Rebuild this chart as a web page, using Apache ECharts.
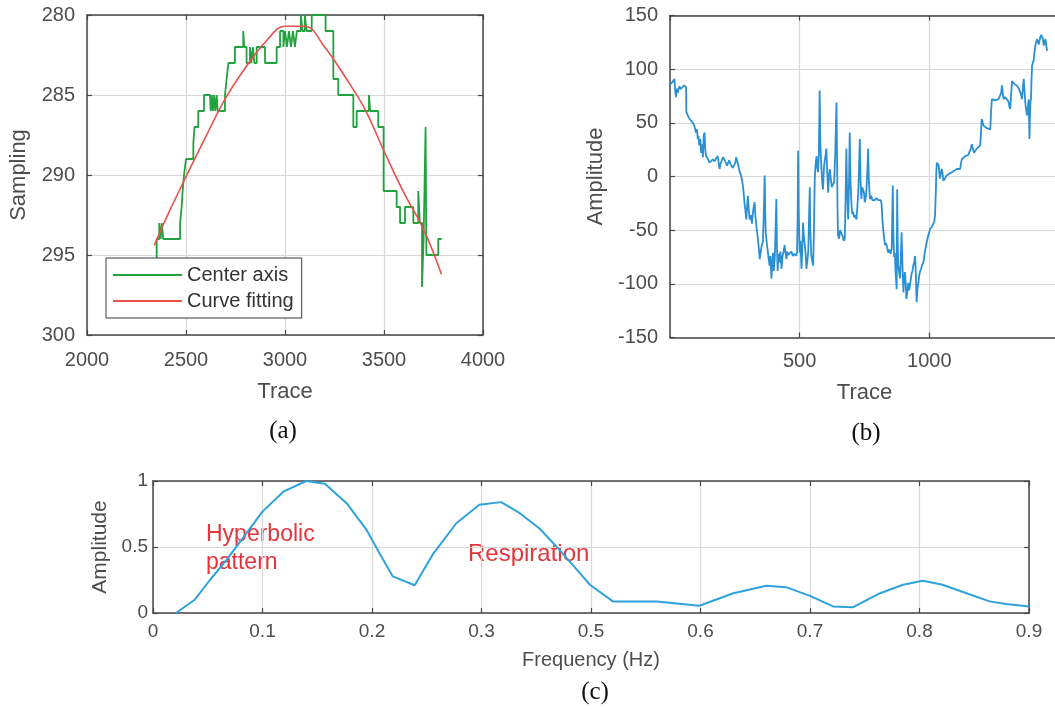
<!DOCTYPE html>
<html>
<head>
<meta charset="utf-8">
<script src="https://cdn.jsdelivr.net/npm/echarts@6/dist/echarts.min.js"></script>
<style>
  html, body { margin: 0; padding: 0; background: #ffffff; }
  #chart { width: 1055px; height: 709px; }
</style>
</head>
<body>
<div id="chart"></div>
<script>
// ---- (a) hyperbola apex tracking: picked centre axis (step trace) and its fitted curve
const centerTrace = [2352,2352,2365,2365,2372,2372,2378,2378,2385,2385,2470,2470,2478,2478,2483,2483,2490,2490,2500,2500,2537,2537,2543,2543,2562,2562,2591,2591,2621,2625,2625,2630,2630,2636,2636,2642,2642,2648,2648,2655,2655,2660,2660,2697,2697,2705,2705,2714,2714,2747,2747,2789,2789,2794,2794,2806,2806,2823,2823,2830,2830,2838,2838,2845,2845,2857,2857,2899,2899,2958,2958,2975,2975,2992,2992,3000,3000,3010,3010,3020,3020,3030,3030,3040,3040,3050,3050,3060,3060,3080,3080,3088,3088,3100,3100,3109,3109,3135,3135,3205,3205,3244,3244,3269,3269,3345,3345,3362,3362,3424,3424,3430,3430,3471,3471,3498,3498,3564,3564,3581,3581,3606,3606,3648,3648,3673,3673,3681,3681,3692,3692,3700,3700,3710,3710,3714,3714,3774,3774,3791];
const centerSample = [296,294,294,293,293,294,294,293,293,294,294,293,293,292,292,291,291,290,290,289,289,288,288,287,287,286,286,285,285,285,286,286,285,285,286,286,285,285,286,286,285,285,286,286,285,285,284,284,283,283,282,282,281,281,282,282,283,283,282,282,283,283,282,282,283,283,282,282,283,283,282,282,281,281,282,282,281,281,282,282,281,281,282,282,281,281,282,282,281,281,280,280,281,281,280,280,281,281,280,280,281,281,284,284,285,285,287,287,286,286,285,285,286,286,287,287,291,291,292,292,293,293,292,292,293,293,291,291,293,293,297,297,294,294,287,287,295,295,294,294];
const fitTrace  = [2340, 2400, 2500, 2600, 2700, 2800, 2900, 3000, 3100, 3200, 3300, 3400, 3500, 3600, 3700, 3790];
const fitSample = [294.4, 292.7, 290.1, 287.6, 285.2, 283.3, 281.7, 280.7, 280.7, 282.0, 283.8, 285.8, 288.5, 291.1, 293.4, 296.2];

// ---- (b) amplitude along the trace
const ampTrace = [0,10,17,20,23,27,30,36,42,48,55,62,63,72,81,88,94,100,104,107,110,113,117,120,124,127,130,133,136,139,145,152,158,165,172,178,184,188,191,195,200,205,210,215,220,223,228,235,242,249,252,255,258,262,268,274,278,281,284,287,290,294,297,300,303,307,312,316,320,323,326,329,333,336,339,343,346,350,354,358,361,363,365,367,369,371,374,378,381,384,387,391,394,397,400,404,407,410,412,415,419,423,426,430,434,438,442,446,449,452,456,462,468,474,480,487,490,492,494,496,500,503,507,510,513,516,520,523,526,530,533,536,539,541,545,548,552,555,558,561,565,568,571,574,577,580,584,587,590,594,597,600,603,606,610,613,616,620,624,629,633,637,640,642,644,646,648,652,656,661,665,670,674,677,680,683,687,690,693,696,700,703,706,710,715,719,722,726,729,732,735,738,741,745,748,751,755,758,761,764,767,771,776,780,784,790,796,803,809,813,816,819,822,826,829,833,837,842,846,851,855,857,859,861,864,867,870,874,875,876,878,880,884,887,890,893,896,900,903,906,909,912,916,919,922,925,929,932,935,938,942,945,948,950,951,954,958,961,964,968,973,977,983,990,996,1003,1009,1016,1019,1022,1025,1027,1029,1032,1035,1038,1041,1044,1048,1051,1054,1060,1067,1074,1080,1087,1094,1100,1106,1112,1119,1122,1125,1131,1138,1144,1150,1157,1160,1164,1168,1172,1177,1183,1190,1196,1199,1202,1206,1210,1215,1222,1228,1235,1238,1241,1247,1254,1260,1267,1273,1277,1280,1283,1286,1292,1299,1305,1309,1312,1315,1319,1325,1332,1340,1345,1351,1354,1357,1360,1364,1367,1370,1373,1377,1380,1383,1385,1386,1388,1390,1392,1394,1396,1399,1402,1405,1409,1412,1415,1418,1422,1425,1428,1432,1435,1438,1441,1444,1448,1451,1454];
const ampValue = [86,88,91,80,74,82,78,84,81.5,83,85,83,60,55,52,50,47,41,44,35,38,29,35,22,30,18,38,41,25,19,17,13,14,16,14,17,19,12,7,12,15,18,19,13,10,12,15,11,8,7,13,18,15,12,5,1,-4,-8.5,-15,-24,-30,-40,-30,-18,-28,-40,-36,-44,-33,-28,-24,-36,-46,-52,-58,-68,-77,-70,-64,-61,-40,-20,1,-30,-52,-52,-64,-71,-78,-83,-74,-95,-82,-71,-88,-76,-50,-21,-60,-88,-72,-80,-70,-86,-74,-70,-64,-72,-77,-70,-73,-74,-70,-74,-72,-74,-70,-40,24,-30,-71,-60,-86,-70,-43,-55,-64,-72,-86,-78,-70,-40,-10,-50,-74,-78,-83,-50,-4,10,19,8,4,20,80,30,7,-5,-12,10,15,20,26,5,-15,0,7,-2,-10,-8.5,-5,20,50,69,20,-30,-55,-58,-50,-53,-55,-60,-58,-20,26,-15,-40,-10,41,-5,-27,-35,-33,-38,-36,-40,-30,-15,10,35,-5,-21,-10,-8.5,-15,-24,-20,-10,5,26,-5,-21,-18,-22,-21,-22,-20,-22,-21,-22,-26,-40,-49,-58,-64,-62,-66,-71,-68,-72,-67,-40,-8.5,-50,-75,-71,-90,-105,-60,-12,-60,-83,-90,-95,-75,-52,-80,-108,-95,-89,-100,-114,-105,-99,-106,-102,-95,-90,-88,-83,-80,-74,-90,-110,-117,-105,-99,-92,-89,-86,-82,-80,-70,-61,-55,-49,-47,-46,-42,-36,-15,5,13,10,12,5,-2,3,7,3,-4,-2,1,2,3,4,5,6,7,8,7,12,16,17,19,18,20,21,26,30,26,22,24,26,27,29,40,53.5,50,47,46,45,44,44,60,72,71,71,70,72,72,78,85,78,72,74,75,70,65,63,75,89,87,86,84,82,81,76,72,80,91,80,69,62,57,65,72,50,35,55,70,72,90,103,106,108,115,122,125,128,126,123,127,130,132,133,128,122,125,128,122,117];

// ---- (c) amplitude spectrum
const freqTickLabels = ['0', '0.1', '0.2', '0.3', '0.5', '0.6', '0.7', '0.8', '0.9'];
const freqPos = [0.021,0.038,0.052,0.067,0.082,0.100,0.119,0.140,0.157,0.177,0.195,0.205,0.219,0.239,0.256,0.277,0.298,0.318,0.335,0.353,0.371,0.390,0.399,0.420,0.460,0.499,0.530,0.560,0.578,0.600,0.621,0.639,0.664,0.685,0.703,0.721,0.743,0.764,0.779,0.800];
const freqAmp = [0,0.10,0.25,0.40,0.567,0.768,0.919,1.0,0.98,0.83,0.63,0.48,0.277,0.21,0.45,0.68,0.82,0.84,0.756,0.64,0.48,0.30,0.214,0.088,0.088,0.055,0.15,0.206,0.196,0.13,0.05,0.043,0.15,0.214,0.244,0.214,0.15,0.088,0.068,0.05];

const zip = (xs, ys) => xs.map((x, i) => [x, ys[i]]);
const plain = v => String(v);

const TEXT = '#4d4d4d';
const FRAME = '#474747';
const GRID_LINE = '#d9d9d9';
const SANS = 'Liberation Sans, Arial, sans-serif';

// Bottom/left axis with labels, gridlines and inward ticks
function mainAxis(gridIndex, position, range, extra) {
  return Object.assign({
    type: 'value', gridIndex, position,
    min: range[0], max: range[1], interval: range[2],
    axisLine: { show: true, onZero: false, lineStyle: { color: FRAME, width: 1.5 } },
    axisTick: { show: true, inside: true, length: 5, lineStyle: { color: FRAME, width: 1.2 } },
    axisLabel: { show: true, color: TEXT, fontSize: 20, fontFamily: SANS, margin: 12, formatter: plain },
    splitLine: { show: true, lineStyle: { color: GRID_LINE, width: 1.2 } },
    nameLocation: 'middle',
    nameTextStyle: { color: TEXT, fontSize: 22, fontFamily: SANS }
  }, extra || {});
}
// Top/right box edge with inward ticks only
function boxAxis(gridIndex, position, range, extra) {
  return Object.assign({
    type: 'value', gridIndex, position,
    min: range[0], max: range[1], interval: range[2],
    axisLine: { show: true, onZero: false, lineStyle: { color: FRAME, width: 1.5 } },
    axisTick: { show: true, inside: true, length: 5, lineStyle: { color: FRAME, width: 1.2 } },
    axisLabel: { show: false },
    splitLine: { show: false }
  }, extra || {});
}

const chart = echarts.init(document.getElementById('chart'), null, { renderer: 'canvas' });

const option = {
  animation: false,
  backgroundColor: '#ffffff',
  grid: [
    { left: 87, top: 15, width: 396, height: 320, containLabel: false, outerBoundsMode: 'none' },
    { left: 670, top: 15.5, width: 389, height: 322, containLabel: false, outerBoundsMode: 'none' },
    { left: 153, top: 481, width: 876, height: 132, containLabel: false, outerBoundsMode: 'none' }
  ],
  xAxis: [
    mainAxis(0, 'bottom', [2000, 4000, 500], {
      name: 'Trace', nameGap: 46,
      axisLabel: { color: TEXT, fontSize: 20, fontFamily: SANS, margin: 15, formatter: plain }
    }),
    boxAxis(0, 'top', [2000, 4000, 500]),
    mainAxis(1, 'bottom', [0, 1500, 500], {
      name: 'Trace', nameGap: 44,
      axisLabel: { color: TEXT, fontSize: 20, fontFamily: SANS, margin: 14, formatter: plain, showMinLabel: false, showMaxLabel: false }
    }),
    boxAxis(1, 'top', [0, 1500, 500]),
    mainAxis(2, 'bottom', [0, 0.8, 0.1], {
      name: 'Frequency (Hz)', nameGap: 37,
      nameTextStyle: { color: TEXT, fontSize: 20, fontFamily: SANS },
      axisLabel: {
        color: TEXT, fontSize: 19, fontFamily: SANS, margin: 9,
        formatter: v => freqTickLabels[Math.round(v * 10)]
      }
    }),
    boxAxis(2, 'top', [0, 0.8, 0.1])
  ],
  yAxis: [
    mainAxis(0, 'left', [280, 300, 5], { inverse: true, name: 'Sampling', nameGap: 57 }),
    boxAxis(0, 'right', [280, 300, 5], { inverse: true }),
    mainAxis(1, 'left', [-150, 150, 50], { name: 'Amplitude', nameGap: 63 }),
    mainAxis(2, 'left', [0, 1, 0.5], {
      name: 'Amplitude', nameGap: 34,
      nameTextStyle: { color: TEXT, fontSize: 21, fontFamily: SANS },
      axisLabel: { color: TEXT, fontSize: 19, fontFamily: SANS, margin: 5, formatter: plain }
    }),
    boxAxis(2, 'right', [0, 1, 0.5])
  ],
  legend: {
    data: ['Center axis', 'Curve fitting'],
    orient: 'vertical',
    left: 106, top: 258,
    icon: 'rect',
    itemWidth: 69, itemHeight: 2, itemGap: 6,
    padding: [7, 8, 7, 7],
    backgroundColor: '#ffffff',
    borderColor: '#3a3a3a', borderWidth: 1, borderRadius: 0,
    textStyle: { color: '#333333', fontSize: 20, fontFamily: SANS, lineHeight: 20 },
    z: 10
  },
  series: [
    {
      name: 'Center axis', type: 'line', xAxisIndex: 0, yAxisIndex: 0,
      data: zip(centerTrace, centerSample),
      symbol: 'none', lineStyle: { color: '#22a23e', width: 1.8 }, itemStyle: { color: '#22a23e' }, z: 2
    },
    {
      name: 'Curve fitting', type: 'line', xAxisIndex: 0, yAxisIndex: 0,
      data: zip(fitTrace, fitSample), smooth: 0.4,
      symbol: 'none', lineStyle: { color: '#e9524c', width: 1.6 }, itemStyle: { color: '#e9524c' }, z: 3
    },
    {
      name: 'Amplitude trace', type: 'line', xAxisIndex: 2, yAxisIndex: 2,
      data: zip(ampTrace, ampValue),
      symbol: 'none', lineStyle: { color: '#2b8fd3', width: 1.8 }
    },
    {
      name: 'Spectrum', type: 'line', xAxisIndex: 4, yAxisIndex: 3,
      data: zip(freqPos, freqAmp),
      symbol: 'none', lineStyle: { color: '#2fa2dc', width: 2 }
    }
  ],
  graphic: [
    { type: 'text', x: 206, y: 535, style: { text: 'Hyperbolic', fill: '#e3353b', font: '23px Liberation Sans', align: 'left', verticalAlign: 'middle' } },
    { type: 'text', x: 206, y: 563, style: { text: 'pattern', fill: '#e3353b', font: '23px Liberation Sans', align: 'left', verticalAlign: 'middle' } },
    { type: 'text', x: 468, y: 554, style: { text: 'Respiration', fill: '#e3353b', font: '24px Liberation Sans', align: 'left', verticalAlign: 'middle' } },
    { type: 'text', x: 283, y: 431, style: { text: '(a)', fill: '#111111', font: '25px Liberation Serif', align: 'center', verticalAlign: 'middle' } },
    { type: 'text', x: 866, y: 433, style: { text: '(b)', fill: '#111111', font: '25px Liberation Serif', align: 'center', verticalAlign: 'middle' } },
    { type: 'text', x: 595, y: 692, style: { text: '(c)', fill: '#111111', font: '25px Liberation Serif', align: 'center', verticalAlign: 'middle' } }
  ]
};

chart.setOption(option);
</script>
</body>
</html>
